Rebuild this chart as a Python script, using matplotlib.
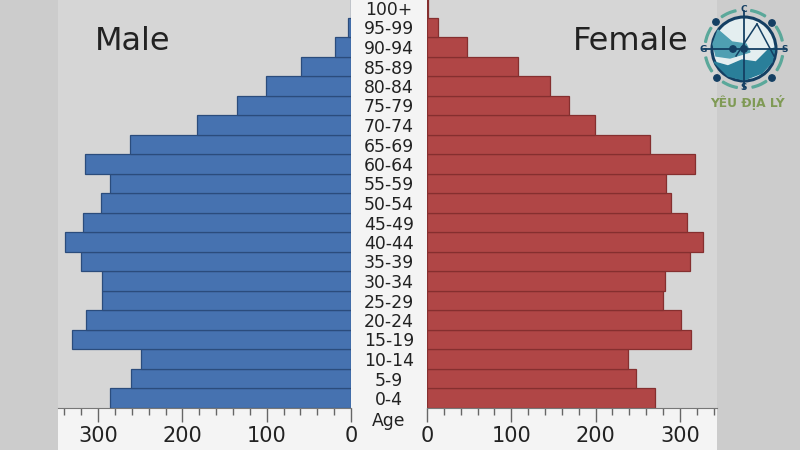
import numpy as np
import matplotlib
matplotlib.use('Agg')
import matplotlib.pyplot as plt
from matplotlib.patches import Circle, Wedge, Polygon
from matplotlib.ticker import MultipleLocator

W, H = 800, 450

ages = ['0-4', '5-9', '10-14', '15-19', '20-24', '25-29', '30-34', '35-39', '40-44', '45-49',
        '50-54', '55-59', '60-64', '65-69', '70-74', '75-79', '80-84', '85-89', '90-94',
        '95-99', '100+']
male = [286, 261, 249, 331, 314, 295, 295, 320, 339, 318, 297, 286, 316, 262, 183, 135, 101, 59, 19, 4, 0]
female = [270, 248, 238, 313, 301, 280, 282, 312, 327, 308, 290, 284, 318, 264, 199, 168, 146, 108, 47, 13, 1]

fig = plt.figure(figsize=(8, 4.5), dpi=100, facecolor='#cccccc')


def pixel_axes(x0, x1, y0, y1):
    return fig.add_axes([x0 / W, 1 - y1 / H, (x1 - x0) / W, (y1 - y0) / H])


# pale panel behind the axes and age labels
bg = pixel_axes(58, 717, 0, 450)
bg.axis('off')
bg.add_patch(plt.Rectangle((0, 0), 1, 1, transform=bg.transAxes, color='#f4f4f4'))

y = np.arange(len(ages))
ax1 = pixel_axes(58, 351, 0, 408)
ax2 = pixel_axes(427, 717, 0, 408)

ax1.barh(y, male, height=1, color='#4672b0', edgecolor='#2b4c7c', linewidth=0.9)
ax2.barh(y, female, height=1, color='#b04646', edgecolor='#852f2f', linewidth=0.9)

ax1.set_xlim(347.5, 0)
ax2.set_xlim(0, 344)

for ax in (ax1, ax2):
    ax.set_facecolor('#d6d6d6')
    ax.set_ylim(-0.5, 20.4)
    ax.set_yticks([])
    ax.xaxis.set_major_locator(MultipleLocator(100))
    ax.xaxis.set_minor_locator(MultipleLocator(20))
    ax.tick_params(axis='x', which='major', length=10, width=1, color='#666666',
                   labelsize=15, labelcolor='#222222', pad=3)
    ax.tick_params(axis='x', which='minor', length=5, width=1, color='#666666')
    for side in ('top', 'left', 'right'):
        ax.spines[side].set_visible(False)
    ax.spines['bottom'].set_color('#777777')

fig.text(95 / W, 1 - 41 / H, 'Male', fontsize=23, color='#222222', va='center', ha='left')
fig.text(573 / W, 1 - 41 / H, 'Female', fontsize=23, color='#222222', va='center', ha='left')

# age labels in the middle
for i, age in enumerate(ages):
    fig.text(389 / W, 1 - (400 - i * 19.5) / H, age, fontsize=12.4, color='#222222',
             ha='center', va='center')
fig.text(389 / W, 1 - 421 / H, 'Age', fontsize=12.4, color='#222222', ha='center', va='center')

# logo, drawn in pixel coordinates
logo = fig.add_axes([0, 0, 1, 1], facecolor='none')
logo.set_xlim(0, W)
logo.set_ylim(H, 0)
logo.axis('off')
cx, cy = 744, 49
teal = '#5aa89a'
navy = '#143f63'
for a in np.arange(0, 360, 45):
    logo.add_patch(Wedge((cx, cy), 40, a + 10, a + 33, width=1.8, color=teal))
logo.add_patch(Circle((cx, cy), 32, facecolor='#e4eef0', edgecolor=navy, linewidth=2.2))
logo.add_patch(Polygon([(714, 62), (728, 66), (742, 60), (756, 62), (768, 50), (775, 48), (772, 62),
                        (762, 73), (744, 80), (728, 76)], closed=True, color='#2a7f9a'))
logo.add_patch(Polygon([(713, 44), (718, 30), (732, 42), (746, 44), (750, 52), (730, 58), (716, 56)],
                       closed=True, color='#4f9fb2'))
logo.plot([703, 785], [49, 49], color=navy, lw=1.3)
logo.plot([744, 744], [11, 88], color=navy, lw=1.3)
logo.plot([757, 736], [24, 56], color=navy, lw=1.1)
logo.plot([757, 774], [24, 56], color=navy, lw=1.1)
for px, py in [(716, 22), (772, 23), (717, 78), (772, 78), (744, 49), (733, 49)]:
    logo.add_patch(Circle((px, py), 3.2, color=navy))
for s, px, py in [('C', 744, 9), ('G', 703, 49), ('S', 785, 49), ('S', 744, 87)]:
    logo.text(px, py, s, fontsize=6.5, color=navy, weight='bold', ha='center', va='center')
logo.text(747, 102, 'YÊU ĐỊA LÝ', fontsize=8.8, color='#7f9a55', weight='bold',
          ha='center', va='center')

fig.savefig('out.png', dpi=100, facecolor=fig.get_facecolor())
